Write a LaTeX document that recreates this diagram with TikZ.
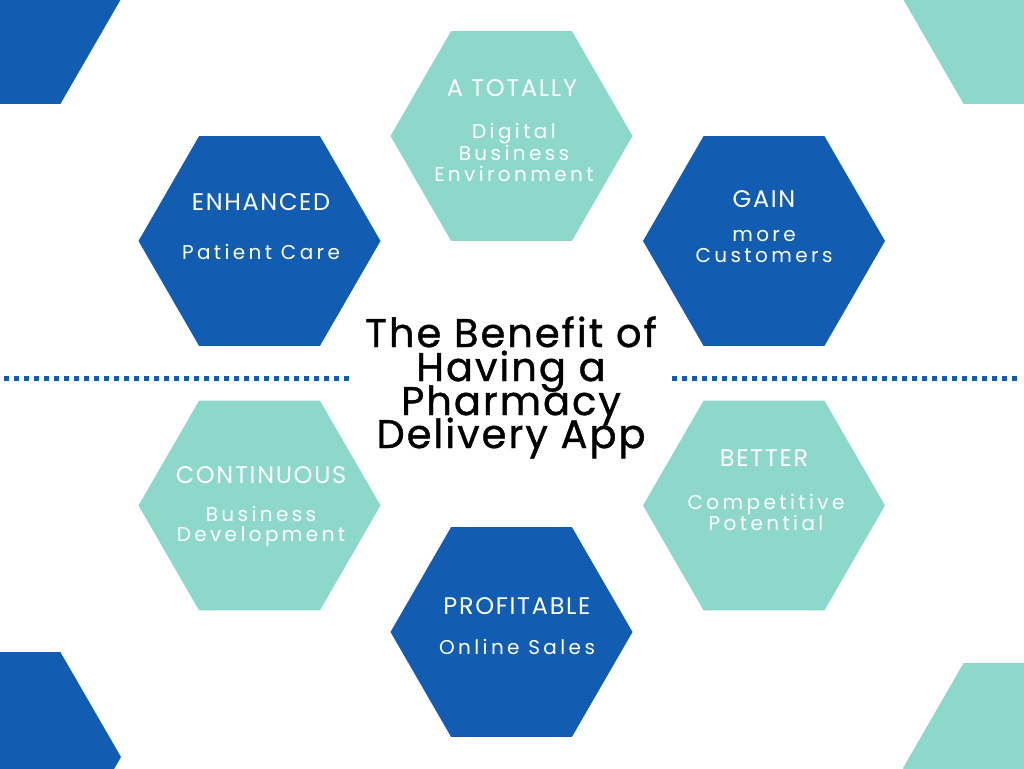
\documentclass[tikz,border=0pt]{standalone}
\usepackage{fontspec}
\setmainfont{Poppins}
\newfontfamily\headfont[LetterSpace=7]{Poppins}
\newfontfamily\subfont[LetterSpace=17]{Poppins}
\newfontfamily\titlefont[LetterSpace=5,FakeBold=1]{Poppins}
\usetikzlibrary{shapes.geometric}
\definecolor{hexblue}{RGB}{18,93,178}
\definecolor{hexteal}{RGB}{141,216,203}
\tikzset{
  hexa/.style={regular polygon, regular polygon sides=6, minimum size=242pt, inner sep=0pt, outer sep=0pt, draw=none},
  bluehex/.style={hexa, fill=hexblue},
  tealhex/.style={hexa, fill=hexteal},
  head/.style={text=white, font=\headfont\fontsize{24}{24}\selectfont, anchor=base, inner sep=0pt},
  sub/.style={text=white, font=\subfont\fontsize{20}{21}\selectfont, anchor=base, inner sep=0pt},
  ttl/.style={text=black, font=\titlefont\fontsize{40}{34}\selectfont, anchor=base, inner sep=0pt},
  dotline/.style={hexblue, line width=5pt, dash pattern=on 5pt off 5pt}
}
\begin{document}
\begin{tikzpicture}[x=1pt,y=-1pt]
\useasboundingbox (0,0) rectangle (1024,768);
\clip (0,0) rectangle (1024,768);
% corner hexagons
\node[bluehex] (ctl) at (0,-1) {};
\node[tealhex] (ctr) at (1024,-1) {};
\node[bluehex] (cbl) at (0,757) {};
\node[tealhex] (cbr) at (1024,768) {};
% main hexagons
\node[tealhex] (digital) at (511.5,136) {};
\node[bluehex] (patient) at (259.5,241) {};
\node[bluehex] (gain) at (764,241) {};
\node[tealhex] (cont) at (259.5,505.5) {};
\node[tealhex] (better) at (764,505.5) {};
\node[bluehex] (profit) at (511.5,632) {};
% dotted lines
\coordinate (l1) at (4,378);
\coordinate (l2) at (349,378);
\coordinate (r1) at (672,378);
\coordinate (r2) at (1020,378);
\draw[dotline] (l1) -- (l2);
\draw[dotline] (r1) -- (r2);
% texts
\node[head] (t1h) at (512,96) {A TOTALLY};
\node[sub] (t1a) at (514,138) {Digital};
\node[sub] (t1b) at (514,160) {Business};
\node[sub] (t1c) at (514,181) {Environment};

\node[head] (t2h) at (261,210) {ENHANCED};
\node[sub] (t2a) at (261,259) {Patient Care};

\node[head] (t3h) at (764,207) {GAIN};
\node[sub] (t3a) at (764,241) {more};
\node[sub] (t3b) at (764,262) {Customers};

\node[head] (t4h) at (261,483) {CONTINUOUS};
\node[sub] (t4a) at (261,521) {Business};
\node[sub] (t4b) at (261,541) {Development};

\node[head] (t5h) at (764,466) {BETTER};
\node[sub] (t5a) at (766,509) {Competitive};
\node[sub] (t5b) at (766,530) {Potential};

\node[head] (t6h) at (517,614) {PROFITABLE};
\node[sub] (t6a) at (517,654) {Online Sales};

\node[ttl] (ti1) at (511,347) {The Benefit of};
\node[ttl] (ti2) at (511,381) {Having a};
\node[ttl] (ti3) at (511,415) {Pharmacy};
\node[ttl] (ti4) at (511,448) {Delivery App};
\end{tikzpicture}
\end{document}
